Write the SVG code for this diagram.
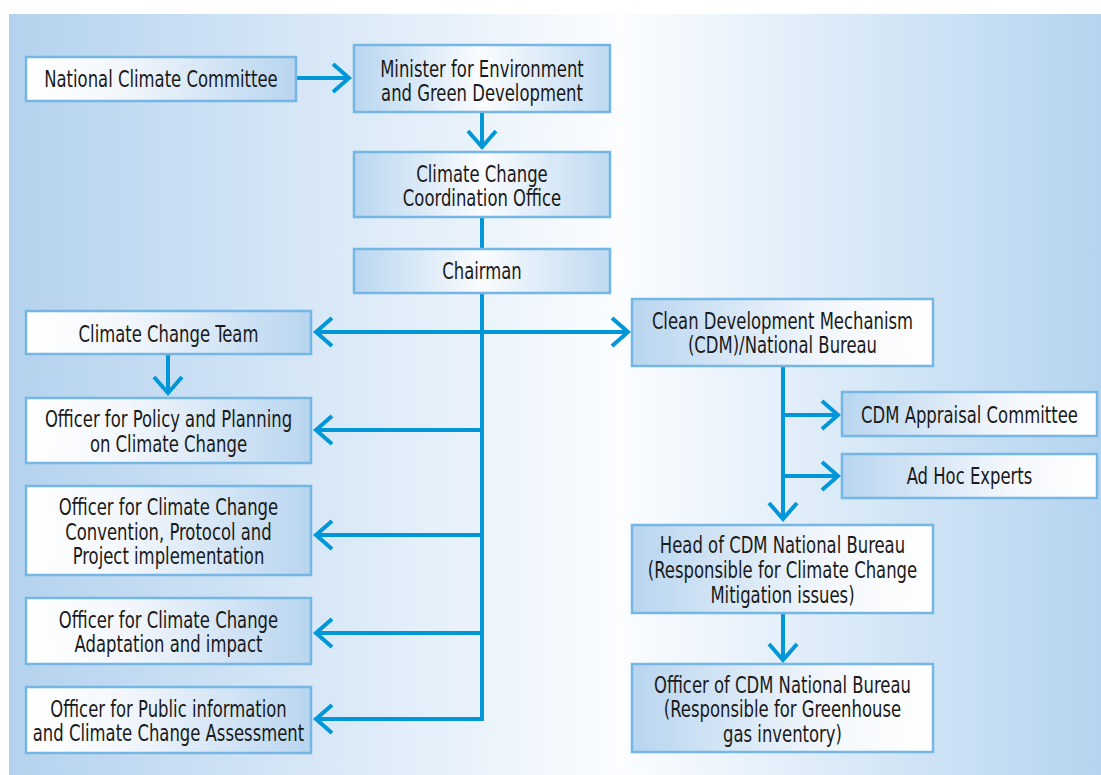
<svg xmlns="http://www.w3.org/2000/svg" width="1101" height="775" viewBox="0 0 1101 775">
<defs>
<linearGradient id="bg" x1="9" y1="0" x2="1101" y2="0" gradientUnits="userSpaceOnUse">
<stop offset="0" stop-color="#b4d2ee"/>
<stop offset="0.56" stop-color="#fbfdff"/>
<stop offset="1" stop-color="#b5d4ef"/>
</linearGradient>
<linearGradient id="gL" x1="0" y1="0" x2="1" y2="0">
<stop offset="0" stop-color="#ffffff"/>
<stop offset="0.35" stop-color="#f3f7fc"/>
<stop offset="1" stop-color="#b8d5ef"/>
</linearGradient>
<linearGradient id="gR" x1="0" y1="0" x2="1" y2="0">
<stop offset="0" stop-color="#b8d5ef"/>
<stop offset="0.65" stop-color="#f3f7fc"/>
<stop offset="1" stop-color="#ffffff"/>
</linearGradient>
<linearGradient id="gC" x1="0" y1="0" x2="1" y2="0">
<stop offset="0" stop-color="#b9d6ef"/>
<stop offset="0.5" stop-color="#fafcff"/>
<stop offset="1" stop-color="#bfd9f0"/>
</linearGradient>
<marker id="ah" viewBox="-20 -16 24 32" refX="0" refY="0" markerWidth="24" markerHeight="32" markerUnits="userSpaceOnUse" orient="auto-start-reverse">
<path d="M-16,-14 L0,0 L-16,14" fill="none" stroke="#0096d8" stroke-width="4"/>
</marker>
</defs>
<style>
.box{stroke:#74b6e4;stroke-width:2.5}
.l{fill:url(#gL)}
.r{fill:url(#gR)}
.c{fill:url(#gC)}
text{font-family:"Liberation Sans Narrow","DejaVu Sans Condensed","Liberation Sans",sans-serif;font-size:23px;fill:#1a1a1a;text-anchor:middle;transform-box:fill-box;transform-origin:center;transform:scaleX(0.795)}
.cn{fill:none;stroke:#0096d8;stroke-width:4}
.a{marker-end:url(#ah)}
.ab{marker-start:url(#ah);marker-end:url(#ah)}
</style>
<rect x="9" y="14" width="1092" height="761" fill="url(#bg)"/>
<g id="connectors">
<path class="cn a" d="M296,78 H349"/>
<path class="cn a" d="M482,112 V147"/>
<path class="cn" d="M482,217 V249"/>
<path class="cn a" d="M482,293 V719 H316"/>
<path class="cn ab" d="M316,332 H628"/>
<path class="cn a" d="M482,430 H316"/>
<path class="cn a" d="M482,535 H316"/>
<path class="cn a" d="M482,633 H316"/>
<path class="cn a" d="M168,354 V393"/>
<path class="cn a" d="M783,366 V519"/>
<path class="cn a" d="M783,415 H838"/>
<path class="cn a" d="M783,476 H838"/>
<path class="cn a" d="M783,613 V660"/>
</g>
<g id="ncc"><rect class="box l" x="26" y="57" width="270" height="44"/><text x="161" y="87">National Climate Committee</text></g>
<g id="minister"><rect class="box c" x="354" y="45" width="256" height="67"/><text x="482" y="77">Minister for Environment</text><text x="482" y="101">and Green Development</text></g>
<g id="ccco"><rect class="box c" x="354" y="152" width="256" height="65"/><text x="482" y="182">Climate Change</text><text x="482" y="206">Coordination Office</text></g>
<g id="chairman"><rect class="box c" x="354" y="249" width="256" height="44"/><text x="482" y="279">Chairman</text></g>
<g id="cct"><rect class="box l" x="26" y="311" width="285" height="43"/><text x="168.5" y="342">Climate Change Team</text></g>
<g id="policy"><rect class="box l" x="26" y="398" width="285" height="65"/><text x="168.5" y="427">Officer for Policy and Planning</text><text x="168.5" y="452">on Climate Change</text></g>
<g id="convention"><rect class="box l" x="26" y="486" width="285" height="89"/><text x="168.5" y="515">Officer for Climate Change</text><text x="168.5" y="540">Convention, Protocol and</text><text x="168.5" y="564">Project implementation</text></g>
<g id="adaptation"><rect class="box l" x="26" y="598" width="285" height="66"/><text x="168.5" y="628">Officer for Climate Change</text><text x="168.5" y="652">Adaptation and impact</text></g>
<g id="public"><rect class="box l" x="26" y="687" width="285" height="66"/><text x="168.5" y="717">Officer for Public information</text><text x="168.5" y="741">and Climate Change Assessment</text></g>
<g id="cdm"><rect class="box r" x="632" y="299" width="301" height="67"/><text x="782.5" y="329">Clean Development Mechanism</text><text x="782.5" y="353">(CDM)/National Bureau</text></g>
<g id="appraisal"><rect class="box r" x="842" y="392" width="255" height="44"/><text x="969.5" y="423">CDM Appraisal Committee</text></g>
<g id="adhoc"><rect class="box r" x="842" y="454" width="255" height="44"/><text x="969.5" y="484">Ad Hoc Experts</text></g>
<g id="head"><rect class="box r" x="632" y="525" width="301" height="88"/><text x="782.5" y="553">Head of CDM National Bureau</text><text x="782.5" y="578">(Responsible for Climate Change</text><text x="782.5" y="603">Mitigation issues)</text></g>
<g id="officer-cdm"><rect class="box r" x="632" y="664" width="301" height="88"/><text x="782.5" y="693">Officer of CDM National Bureau</text><text x="782.5" y="717">(Responsible for Greenhouse</text><text x="782.5" y="742">gas inventory)</text></g>
</svg>
